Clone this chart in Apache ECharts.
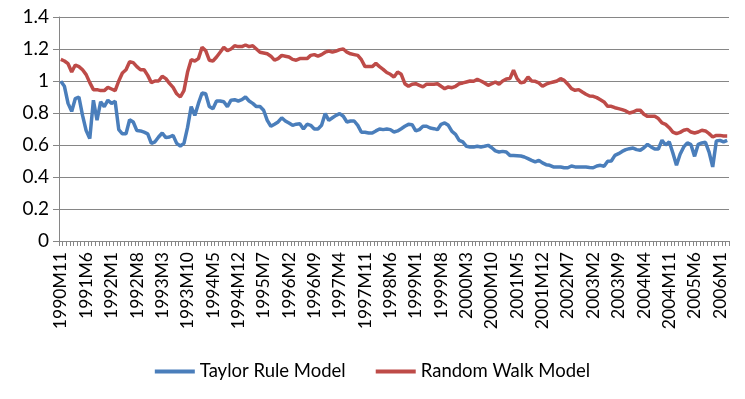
<!DOCTYPE html>
<html>
<head>
<meta charset="utf-8">
<script src="https://cdn.jsdelivr.net/npm/echarts@6/dist/echarts.min.js"></script>
<style>
html,body{margin:0;padding:0;background:#fff;}
#chart{width:745px;height:399px;}
</style>
</head>
<body>
<div id="chart"></div>
<script>
// Monthly categories 1990M11 .. 2006M3
const startYear = 1990, startMonth = 11, monthCount = 185;
const categories = [];
for (let k = 0; k < monthCount; k++) {
  const m = startMonth - 1 + k;
  categories.push((startYear + Math.floor(m / 12)) + 'M' + (m % 12 + 1));
}

const seriesNames = ['Taylor Rule Model', 'Random Walk Model'];

const taylorRule = [
  0.998,0.967,0.86,0.81,0.89,0.90,0.785,0.69,0.64,0.88,
  0.755,0.87,0.84,0.88,0.86,0.873,0.696,0.67,0.67,0.758,
  0.744,0.69,0.688,0.68,0.67,0.61,0.62,0.65,0.675,0.646,
  0.65,0.66,0.61,0.594,0.61,0.71,0.84,0.785,0.86,0.925,
  0.92,0.84,0.827,0.875,0.875,0.87,0.84,0.88,0.883,0.875,
  0.883,0.90,0.875,0.86,0.84,0.84,0.817,0.754,0.717,0.73,
  0.744,0.77,0.75,0.737,0.723,0.73,0.733,0.70,0.73,0.723,
  0.70,0.70,0.723,0.796,0.754,0.77,0.785,0.796,0.78,0.744,
  0.75,0.75,0.723,0.68,0.68,0.675,0.675,0.688,0.70,0.696,
  0.70,0.696,0.681,0.688,0.702,0.717,0.729,0.727,0.688,0.696,
  0.717,0.717,0.706,0.702,0.696,0.729,0.738,0.723,0.685,0.667,
  0.629,0.619,0.592,0.588,0.588,0.592,0.588,0.592,0.598,0.583,
  0.563,0.556,0.56,0.556,0.535,0.535,0.533,0.531,0.525,0.515,
  0.504,0.494,0.504,0.488,0.477,0.473,0.463,0.463,0.463,0.458,
  0.458,0.469,0.463,0.463,0.463,0.463,0.46,0.458,0.469,0.473,
  0.467,0.498,0.50,0.535,0.546,0.56,0.571,0.577,0.581,0.571,
  0.567,0.583,0.604,0.588,0.575,0.575,0.63,0.60,0.62,0.55,
  0.473,0.542,0.588,0.613,0.602,0.529,0.604,0.613,0.617,0.556,
  0.463,0.625,0.629,0.619,0.629
];

const randomWalk = [
  1.135,1.125,1.108,1.056,1.10,1.09,1.07,1.04,0.99,0.946,
  0.946,0.94,0.94,0.96,0.95,0.94,1.00,1.05,1.07,1.12,
  1.115,1.09,1.07,1.07,1.035,0.99,1.00,1.00,1.03,1.015,
  0.985,0.96,0.92,0.90,0.94,1.056,1.133,1.125,1.14,1.21,
  1.19,1.13,1.125,1.15,1.18,1.21,1.19,1.20,1.22,1.215,
  1.215,1.225,1.215,1.22,1.20,1.18,1.175,1.17,1.155,1.13,
  1.14,1.16,1.155,1.15,1.135,1.13,1.14,1.14,1.14,1.16,
  1.165,1.155,1.165,1.18,1.187,1.18,1.187,1.196,1.20,1.18,
  1.17,1.165,1.16,1.133,1.09,1.09,1.09,1.11,1.09,1.073,
  1.053,1.042,1.025,1.056,1.042,0.983,0.967,0.98,0.983,0.973,
  0.963,0.98,0.98,0.98,0.983,0.967,0.952,0.963,0.958,0.967,
  0.983,0.988,0.994,1.00,0.998,1.01,1.00,0.988,0.973,0.983,
  0.994,0.98,1.00,1.012,1.015,1.067,1.015,0.988,0.994,1.025,
  1.00,0.998,0.988,0.967,0.98,0.988,0.994,1.00,1.015,1.004,
  0.98,0.952,0.942,0.946,0.931,0.917,0.906,0.904,0.896,0.883,
  0.869,0.842,0.842,0.833,0.827,0.821,0.813,0.80,0.806,0.817,
  0.817,0.792,0.779,0.779,0.779,0.765,0.738,0.729,0.708,0.681,
  0.671,0.679,0.692,0.698,0.681,0.675,0.681,0.692,0.688,0.671,
  0.65,0.66,0.66,0.656,0.656
];

const yTicks = { min: 0, max: 1.4, interval: 0.2 };
const labelFont = 'Lato, "Liberation Sans", Arial, sans-serif';
const gridColor = '#868686';

const chart = echarts.init(document.getElementById('chart'), null, { renderer: 'canvas' });
chart.setOption({
  backgroundColor: '#ffffff',
  animation: false,
  grid: { left: 59, right: 16, top: 17, bottom: 158, containLabel: false },
  legend: {
    bottom: 13,
    left: 'center',
    itemWidth: 40,
    itemHeight: 4,
    itemGap: 30,
    icon: 'rect',
    textStyle: { fontFamily: labelFont, fontSize: 18.5, color: '#000' },
    data: seriesNames
  },
  xAxis: {
    type: 'category',
    data: categories,
    boundaryGap: true,
    axisLine: { lineStyle: { color: gridColor, width: 1 } },
    axisTick: { show: true, interval: 0, length: 5, lineStyle: { color: gridColor } },
    axisLabel: {
      interval: 6,
      rotate: 90,
      margin: 11,
      fontFamily: labelFont,
      fontSize: 17.5,
      color: '#000'
    },
    splitLine: { show: false }
  },
  yAxis: {
    type: 'value',
    min: yTicks.min,
    max: yTicks.max,
    interval: yTicks.interval,
    axisLine: { show: true, lineStyle: { color: gridColor, width: 1 } },
    axisTick: { show: true, length: 6, lineStyle: { color: gridColor } },
    axisLabel: {
      margin: 10,
      fontFamily: labelFont,
      fontSize: 19,
      color: '#000',
      formatter: function (v) { return String(Math.round(v * 10) / 10); }
    },
    splitLine: { show: true, lineStyle: { color: gridColor, width: 1 } }
  },
  series: [
    {
      name: seriesNames[0],
      type: 'line',
      data: taylorRule,
      symbol: 'none',
      lineStyle: { color: '#4A7EBB', width: 3.5 },
      itemStyle: { color: '#4A7EBB' }
    },
    {
      name: seriesNames[1],
      type: 'line',
      data: randomWalk,
      symbol: 'none',
      lineStyle: { color: '#BE4B48', width: 3.5 },
      itemStyle: { color: '#BE4B48' }
    }
  ]
});
</script>
</body>
</html>
